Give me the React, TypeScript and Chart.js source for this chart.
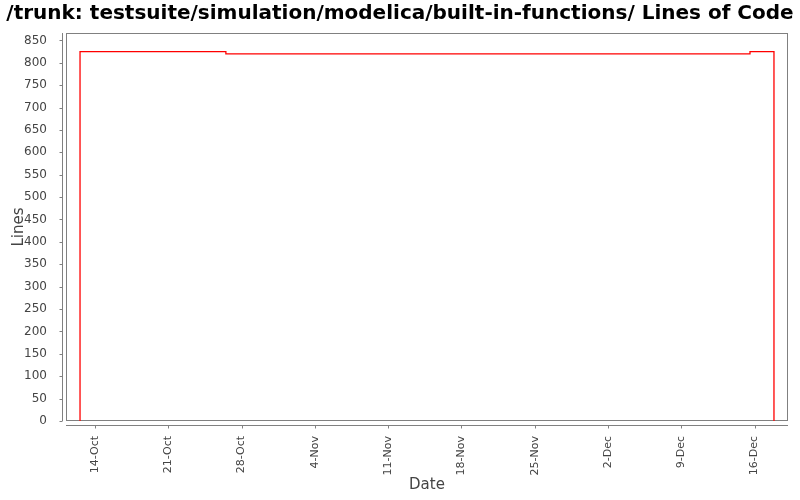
import React, { useEffect, useRef } from "react";
import { Chart, registerables } from "chart.js";

Chart.register(...registerables);

const titleText = "/trunk: testsuite/simulation/modelica/built-in-functions/ Lines of Code";
const xTickLabels = ["14-Oct", "21-Oct", "28-Oct", "4-Nov", "11-Nov", "18-Nov", "25-Nov", "2-Dec", "9-Dec", "16-Dec"];
const xTickDays = [0, 7, 14, 21, 28, 35, 42, 49, 56, 63];
const yTicks = [0, 50, 100, 150, 200, 250, 300, 350, 400, 450, 500, 550, 600, 650, 700, 750, 800, 850];
// days relative to 14-Oct
const stepDays = [-1.43, -1.43, 12.5, 62.56, 64.85];
const stepLines = [0, 825, 820, 825, 0];

const GRAY = "#808080";
const TEXT = "#444444";

const framePlugin = {
  id: "frame",
  beforeDatasetsDraw(chart: any) {
    const { ctx, chartArea: a, scales } = chart;
    ctx.save();
    ctx.strokeStyle = GRAY;
    ctx.lineWidth = 1;
    ctx.strokeRect(a.left + 0.5, a.top + 0.5, a.right - a.left - 1, a.bottom - a.top - 1);
    const ax = a.left - 4 + 0.5;
    ctx.beginPath();
    ctx.moveTo(ax, a.top);
    ctx.lineTo(ax, a.bottom);
    for (const v of yTicks) {
      const py = Math.round(scales.y.getPixelForValue(v)) + 0.5;
      ctx.moveTo(ax - 3, py);
      ctx.lineTo(ax, py);
    }
    const ay = a.bottom + 4 + 0.5;
    ctx.moveTo(a.left, ay);
    ctx.lineTo(a.right, ay);
    for (const d of xTickDays) {
      const px = Math.round(scales.x.getPixelForValue(d)) + 0.5;
      ctx.moveTo(px, ay);
      ctx.lineTo(px, ay + 3);
    }
    ctx.stroke();
    ctx.restore();
  },
};

export default function App() {
  const ref = useRef<HTMLCanvasElement | null>(null);
  useEffect(() => {
    if (!ref.current) return;
    const chart = new Chart(ref.current, {
      type: "line",
      data: {
        datasets: [
          {
            data: stepDays.map((d, i) => ({ x: d, y: stepLines[i] })),
            borderColor: "#ff0000",
            borderWidth: 1.3,
            pointRadius: 0,
            stepped: "before",
            fill: false,
          },
        ],
      },
      options: {
        animation: false,
        responsive: false,
        layout: { padding: 0 },
        plugins: {
          legend: { display: false },
          tooltip: { enabled: false },
          title: {
            display: true,
            text: titleText,
            color: "#000000",
            font: { family: "DejaVu Sans", size: 20, weight: "bold" },
            padding: { top: 2, bottom: 7 },
          },
        },
        scales: {
          x: {
            type: "linear",
            min: -2.77,
            max: 66.19,
            grid: { display: false },
            border: { display: false },
            afterBuildTicks: (s: any) => {
              s.ticks = xTickDays.map((v) => ({ value: v }));
            },
            afterFit: (s: any) => {
              s.height = 79;
            },
            ticks: {
              autoSkip: false,
              minRotation: 90,
              maxRotation: 90,
              padding: 7,
              color: TEXT,
              font: { family: "DejaVu Sans", size: 11 },
              callback: (v: any) => {
                const i = xTickDays.indexOf(Number(v));
                return i >= 0 ? xTickLabels[i] : "";
              },
            },
            title: {
              display: true,
              text: "Date",
              color: TEXT,
              font: { family: "DejaVu Sans", size: 15 },
              padding: { top: 0, bottom: 6 },
            },
          },
          y: {
            type: "linear",
            min: 0,
            max: 866.5,
            grid: { display: false },
            border: { display: false },
            afterBuildTicks: (s: any) => {
              s.ticks = yTicks.map((v) => ({ value: v }));
            },
            afterFit: (s: any) => {
              s.width = 66;
            },
            ticks: {
              padding: 11,
              color: TEXT,
              font: { family: "DejaVu Sans", size: 12 },
            },
            title: {
              display: true,
              text: "Lines",
              color: TEXT,
              font: { family: "DejaVu Sans", size: 15 },
              padding: { top: 10, bottom: 0 },
            },
          },
          yRight: {
            type: "linear",
            position: "right",
            display: true,
            grid: { display: false },
            border: { display: false },
            ticks: { display: false },
            afterFit: (s: any) => {
              s.width = 12;
            },
          },
        },
      },
      plugins: [framePlugin],
    } as any);
    return () => chart.destroy();
  }, []);
  return (
    <div style={{ position: "absolute", left: 0, top: 0, width: 800, height: 500, background: "#fff" }}>
      <canvas ref={ref} width={800} height={500} style={{ width: 800, height: 500 }} />
    </div>
  );
}
